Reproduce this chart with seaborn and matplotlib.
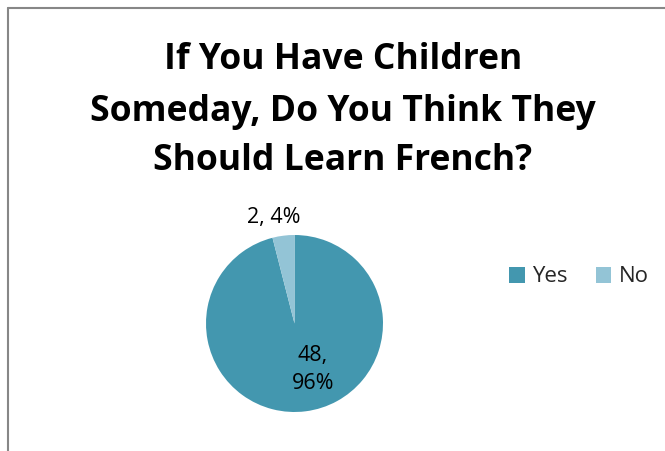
import matplotlib
matplotlib.use("Agg")
import matplotlib.pyplot as plt
from matplotlib.lines import Line2D
from matplotlib.patches import Patch
import seaborn as sns

categories = ["Yes", "No"]
counts = [48, 2]
colors = ["#4397AF", "#93C4D6"]
title_lines = ["If You Have Children", "Someday, Do You Think They", "Should Learn French?"]

sns.set_theme(style="white")
plt.rcParams["font.family"] = ["Open Sans", "DejaVu Sans"]

W, H = 665, 451
fig = plt.figure(figsize=(W / 100, H / 100), dpi=100)
fig.patch.set_facecolor("white")

# chart frame (left and top edges)
fig.add_artist(Line2D([8 / W, 8 / W], [0, 1 - 8 / H], transform=fig.transFigure,
                      color="#878787", lw=1.5))
fig.add_artist(Line2D([8 / W, 1], [1 - 8 / H, 1 - 8 / H], transform=fig.transFigure,
                      color="#878787", lw=1.5))

# title, one line per text
for line, base in zip(title_lines, [69, 121, 170]):
    fig.text(343 / W, 1 - base / H, line, ha="center", va="baseline",
             fontsize=25.6, fontweight="bold", color="black")

# pie axes: centre and radius in pixels
cx, cy, r = 294.5, 323.5, 88.5
ax = fig.add_axes([(cx - r) / W, 1 - (cy + r) / H, 2 * r / W, 2 * r / H])
wedges, _ = ax.pie(counts, colors=colors, startangle=90, counterclock=False,
                   wedgeprops=dict(linewidth=0))
ax.set_xlim(-1, 1)
ax.set_ylim(-1, 1)
ax.axis("off")

total = sum(counts)
pcts = [round(100 * c / total) for c in counts]
label_pos = {"Yes": (0.21, -0.52), "No": (-0.24, 1.20)}
for cat, c, p in zip(categories, counts, pcts):
    txt = f"{c},\n{p}%" if cat == "Yes" else f"{c}, {p}%"
    x, y = label_pos[cat]
    ax.text(x, y, txt, ha="center", va="center", fontsize=15.5, color="black",
            linespacing=1.4, clip_on=False)

handles = [Patch(facecolor=col, edgecolor="none", label=cat)
           for cat, col in zip(categories, colors)]
fig.legend(handles=handles, loc="center left", bbox_to_anchor=(509 / W, 1 - 277 / H),
           ncol=2, frameon=False, fontsize=16, handlelength=0.7, handleheight=0.7,
           handletextpad=0.35, columnspacing=1.25, borderpad=0, borderaxespad=0)

fig.savefig("out.png", dpi=100, facecolor="white")
